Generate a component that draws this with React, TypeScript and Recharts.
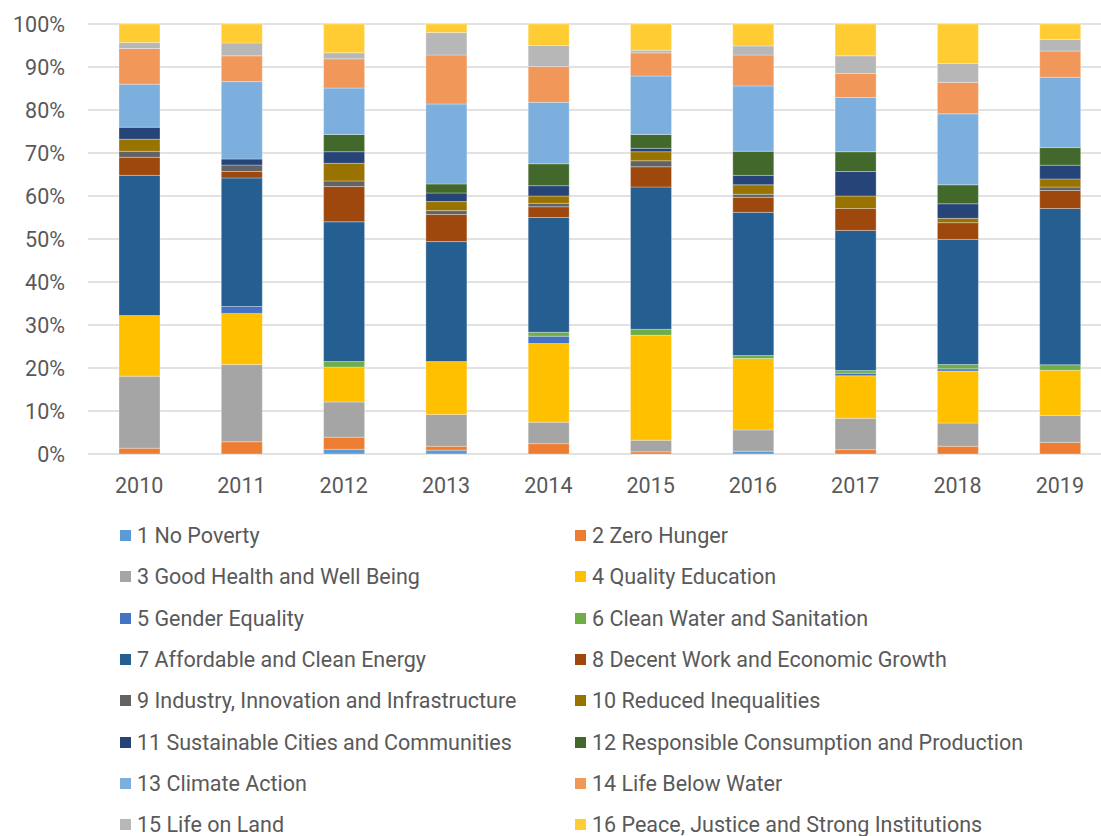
import { Bar, BarChart, CartesianGrid, Legend, XAxis, YAxis } from "recharts";

const years = ["2010", "2011", "2012", "2013", "2014", "2015", "2016", "2017", "2018", "2019"];

const goalNames = [
  "1 No Poverty",
  "2 Zero Hunger",
  "3 Good Health and Well Being",
  "4 Quality Education",
  "5 Gender Equality",
  "6 Clean Water and Sanitation",
  "7 Affordable and Clean Energy",
  "8 Decent Work and Economic Growth",
  "9 Industry, Innovation and Infrastructure",
  "10 Reduced Inequalities",
  "11 Sustainable Cities and Communities",
  "12 Responsible Consumption and Production",
  "13 Climate Action",
  "14 Life Below Water",
  "15 Life on Land",
  "16 Peace, Justice and Strong Institutions",
];

const goalColors = [
  "#5B9BD5", "#ED7D31", "#A5A5A5", "#FFC000",
  "#4472C4", "#70AD47", "#255E91", "#9E480E",
  "#636363", "#997300", "#264478", "#43682B",
  "#7CAFDD", "#F1975A", "#B7B7B7", "#FFCD33",
];

// share of each goal per year, in %
const noPoverty = [0, 0, 1.1, 0.9, 0, 0, 0.65, 0, 0, 0];
const zeroHunger = [1.35, 2.84, 2.8, 0.9, 2.4, 0.5, 0, 1.0, 1.8, 2.7];
const goodHealth = [16.75, 17.96, 8.2, 7.4, 5.0, 2.7, 4.95, 7.3, 5.4, 6.3];
const qualityEducation = [14.1, 11.9, 8.1, 12.3, 18.3, 24.4, 16.6, 9.9, 12.1, 10.5];
const genderEquality = [0, 1.6, 0, 0, 1.7, 0, 0, 0.6, 0.5, 0];
const cleanWater = [0, 0, 1.3, 0, 0.9, 1.4, 0.7, 0.6, 1.0, 1.3];
const cleanEnergy = [32.6, 29.9, 32.5, 27.9, 26.7, 33.1, 33.3, 32.6, 29.1, 36.4];
const decentWork = [4.2, 1.5, 8.2, 6.3, 2.5, 4.7, 3.5, 5.1, 3.9, 4.2];
const industry = [1.4, 1.5, 1.3, 0.9, 0.8, 1.4, 0.7, 0, 0, 0.8];
const reducedInequalities = [2.8, 0, 4.1, 2.1, 1.7, 2.1, 2.2, 2.9, 1.0, 1.9];
const sustainableCities = [2.8, 1.4, 2.7, 2.0, 2.4, 0.8, 2.2, 5.7, 3.4, 3.2];
const responsibleConsumption = [0, 0, 4.0, 2.1, 5.1, 3.2, 5.6, 4.6, 4.4, 4.1];
const climateAction = [10.0, 18.0, 10.8, 18.6, 14.3, 13.6, 15.2, 12.6, 16.5, 16.4];
const lifeBelowWater = [8.3, 6.0, 6.8, 11.4, 8.3, 5.4, 7.2, 5.6, 7.3, 6.1];
const lifeOnLand = [1.4, 3.0, 1.4, 5.2, 4.9, 0.6, 2.1, 4.1, 4.4, 2.7];
const peaceJustice = [4.3, 4.4, 6.7, 2.0, 5.0, 6.1, 5.1, 7.4, 9.2, 3.6];

const yTicks = [0, 0.1, 0.2, 0.3, 0.4, 0.5, 0.6, 0.7, 0.8, 0.9, 1];

const series = [
  noPoverty, zeroHunger, goodHealth, qualityEducation,
  genderEquality, cleanWater, cleanEnergy, decentWork,
  industry, reducedInequalities, sustainableCities, responsibleConsumption,
  climateAction, lifeBelowWater, lifeOnLand, peaceJustice,
];

const data = years.map((year, i) => {
  const row: Record<string, string | number> = { year };
  series.forEach((values, g) => {
    row[`g${g + 1}`] = values[i];
  });
  return row;
});

const textColor = "#595959";
const fontSize = 21.5;

function LegendGrid() {
  return (
    <div
      style={{
        display: "grid",
        gridTemplateColumns: "455px 455px",
        gridAutoRows: "41.3px",
        paddingLeft: 120,
        fontFamily: "Roboto",
        fontSize,
        color: textColor,
      }}
    >
      {goalNames.map((name, i) => (
        <div key={name} style={{ display: "flex", alignItems: "center" }}>
          <span
            style={{
              width: 11,
              height: 11,
              background: goalColors[i],
              marginRight: 6,
              flexShrink: 0,
            }}
          />
          <span style={{ whiteSpace: "nowrap" }}>{name}</span>
        </div>
      ))}
    </div>
  );
}

export default function App() {
  return (
    <div
      style={{
        position: "absolute",
        left: 0,
        top: 0,
        width: 1101,
        height: 836,
        overflow: "hidden",
        background: "#fff",
      }}
    >
      <BarChart
        width={1112}
        height={836}
        data={data}
        stackOffset="expand"
        margin={{ top: 24, right: 1, left: 0, bottom: 12 }}
        style={{ fontFamily: "Roboto" }}
      >
        <CartesianGrid stroke="#D9D9D9" strokeWidth={1.3} vertical={false} />
        <XAxis
          dataKey="year"
          axisLine={false}
          tickLine={false}
          tickSize={0}
          tickMargin={24}
          height={40}
          tick={{ fill: textColor, fontSize }}
        />
        <YAxis
          width={88}
          axisLine={false}
          tickLine={false}
          tickSize={0}
          tickMargin={23}
          domain={[0, 1]}
          ticks={yTicks}
          tickFormatter={(v: number) => `${Math.round(v * 100)}%`}
          tick={{ fill: textColor, fontSize }}
        />
        <Legend
          verticalAlign="bottom"
          content={() => <LegendGrid />}
          wrapperStyle={{ left: 0, top: 515, bottom: "auto", width: 1101, height: 330 }}
        />
        {goalNames.map((name, i) => (
          <Bar
            key={name}
            dataKey={`g${i + 1}`}
            name={name}
            stackId="sdg"
            fill={goalColors[i]}
            stroke="#ffffff"
            strokeOpacity={0.5}
            strokeWidth={0.6}
            barSize={41}
            isAnimationActive={false}
          />
        ))}
      </BarChart>
    </div>
  );
}
